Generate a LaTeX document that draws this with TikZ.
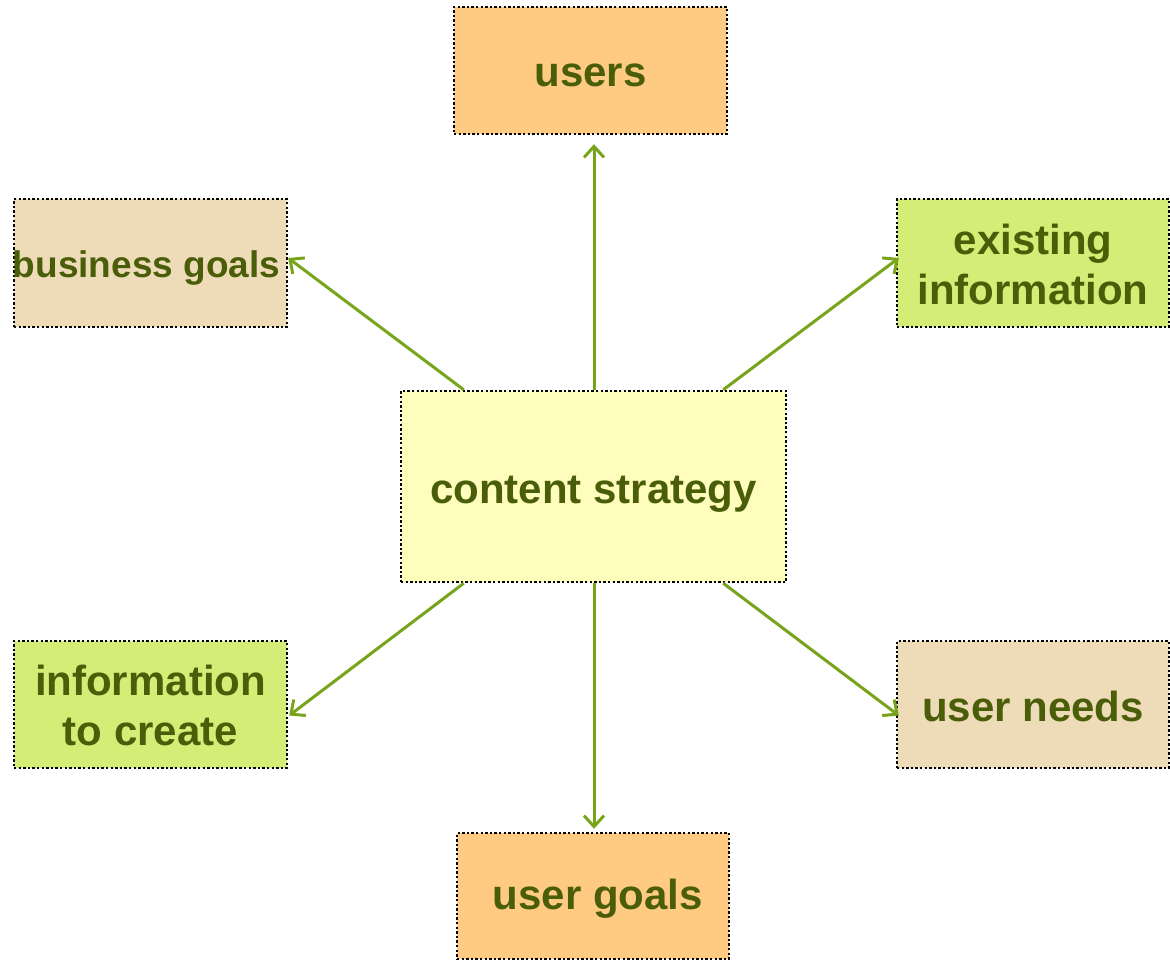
\documentclass[tikz,border=0pt]{standalone}
\usepackage{fontspec}
\setmainfont{Liberation Sans}
\usetikzlibrary{arrows.meta}

\definecolor{txtgreen}{HTML}{4A5D08}
\definecolor{arrgreen}{HTML}{78A41C}
\definecolor{fillorange}{HTML}{FFCB82}
\definecolor{filltan}{HTML}{EEDCB8}
\definecolor{filllime}{HTML}{D3ED77}
\definecolor{fillyellow}{HTML}{FFFDBB}

\tikzset{
  box/.style={draw=black, line width=2.4pt, dash pattern=on 2.4pt off 2.2pt,
    inner sep=0pt},
  lbl/.style={inner sep=0pt, align=center, text=txtgreen,
    font=\fontsize{42}{50}\selectfont\bfseries},
  link/.style={draw=arrgreen, line width=3pt,
    -{Straight Barb[length=11pt,width=20pt]}},
}

\begin{document}
\begin{tikzpicture}[x=1pt,y=-1pt]
  \useasboundingbox (0,0) rectangle (1170,960);

  % boxes
  \node[box, fill=fillyellow, minimum width=385pt, minimum height=191pt]
    (cs) at (593.5,486.5) {};
  \node[box, fill=fillorange, minimum width=273pt, minimum height=127pt]
    (users) at (590.5,70.5) {};
  \node[box, fill=filltan, minimum width=273pt, minimum height=128pt]
    (bg) at (150.5,263) {};
  \node[box, fill=filllime, minimum width=272pt, minimum height=128pt]
    (ei) at (1033,263) {};
  \node[box, fill=filllime, minimum width=273pt, minimum height=127pt]
    (ic) at (150.5,704.5) {};
  \node[box, fill=filltan, minimum width=272pt, minimum height=127pt]
    (un) at (1033,704.5) {};
  \node[box, fill=fillorange, minimum width=272pt, minimum height=126pt]
    (ug) at (593,896) {};

  % box texts
  \node[lbl] (cs-t) at ([yshift=-8pt]cs.center) {content strategy};
  \node[lbl] (users-t) at ([yshift=-5pt]users.center) {users};
  \node[lbl, font=\fontsize{37}{44}\selectfont\bfseries]
    (bg-t) at ([xshift=-4pt,yshift=-5pt]bg.center) {business goals};
  \node[lbl] (ei-t) at ([yshift=-1pt]ei.center) {existing\\information};
  \node[lbl] (ic-t) at ([yshift=-1pt]ic.center) {information\\to create};
  \node[lbl] (un-t) at ([yshift=-2pt]un.center) {user needs};
  \node[lbl] (ug-t) at ([xshift=5pt,yshift=-3pt]ug.center) {user goals};

  % connectors from the centre outwards
  \draw[link] ([xshift=0.5pt]cs.north) -- ([xshift=0.5pt,yshift=-9pt]cs.north |- users.south);
  \draw[link] ([xshift=64pt]cs.north west) -- ([yshift=5pt]bg.east);
  \draw[link] ([xshift=-64pt]cs.north east) -- ([xshift=3pt,yshift=5pt]ei.west);
  \draw[link] ([xshift=64pt]cs.south west) -- ([xshift=1pt,yshift=-11pt]ic.east);
  \draw[link] ([xshift=-64pt]cs.south east) -- ([xshift=3pt,yshift=-11pt]un.west);
  \draw[link] ([xshift=0.5pt]cs.south) -- ([xshift=0.5pt,yshift=3pt]cs.south |- ug.north);
\end{tikzpicture}
\end{document}
